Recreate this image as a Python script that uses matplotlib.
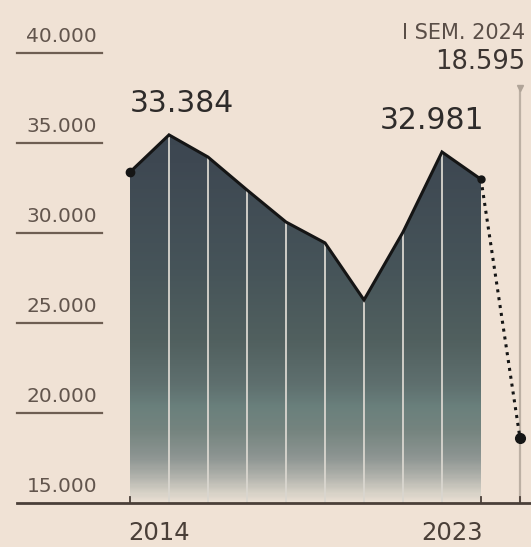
import matplotlib.pyplot as plt
import numpy as np
from matplotlib.colors import LinearSegmentedColormap
from matplotlib.patches import Polygon

years = [2014, 2015, 2016, 2017, 2018, 2019, 2020, 2021, 2022, 2023]
values = [33384, 35450, 34220, 32390, 30610, 29450, 26280, 30050, 34500, 32981]
sem_label = "I SEM. 2024"
sem_value = 18595
yticks = [15000, 20000, 25000, 30000, 35000, 40000]

bg = "#f0e2d5"
px_x = 1 / 39.0
px_y = 1000 / 18.0

fig = plt.figure(figsize=(5.31, 5.47), dpi=100)
fig.patch.set_facecolor(bg)
ax = fig.add_axes([0, 0, 1, 1])
ax.set_facecolor(bg)
ax.set_xlim(-130 * px_x, 401 * px_x)
ax.set_ylim(15000 - 44 * px_y, 15000 + 503 * px_y)
ax.axis("off")

x = np.arange(len(years))

# gradient area under the line
stops = [(15000, "#e8ded2"), (15500, "#d6d1c6"), (16500, "#adafa9"), (17500, "#8d9592"),
         (19000, "#75847f"), (20300, "#6a807c"), (21500, "#5f706f"), (24000, "#51605f"),
         (28000, "#465459"), (34000, "#3e4852"), (36000, "#3c4650")]
lo, hi = stops[0][0], stops[-1][0]
cmap = LinearSegmentedColormap.from_list("g", [((v - lo) / (hi - lo), c) for v, c in stops])
grad = np.linspace(0, 1, 300).reshape(-1, 1)
im = ax.imshow(grad, extent=[x[0], x[-1], lo, hi], origin="lower", aspect="auto",
               cmap=cmap, zorder=1)
verts = [(x[0], 15000)] + list(zip(x, values)) + [(x[-1], 15000)]
poly = Polygon(verts, closed=True, facecolor="none", edgecolor="none")
ax.add_patch(poly)
im.set_clip_path(poly)

# light separators
for i in range(1, len(x) - 1):
    ax.plot([x[i], x[i]], [15000, values[i]], color="#d9d6cf", lw=1.3, zorder=2)

ax.plot(x, values, color="#151515", lw=2.2, zorder=4, solid_joinstyle="miter")
ax.plot([x[-1], x[-1] + 1], [values[-1], sem_value], color="#151515", lw=2.2,
        ls=(0, (1, 1.6)), zorder=4)
ax.plot([x[0]], [values[0]], "o", color="#151515", ms=6, zorder=5)
ax.plot([x[-1]], [values[-1]], "o", color="#151515", ms=5, zorder=5)
ax.plot([x[-1] + 1], [sem_value], "o", color="#151515", ms=7, zorder=5)

# grey marker line for the half year
top = 15000 + 415 * px_y
ax.plot([x[-1] + 1, x[-1] + 1], [15000, top], color="#bcb0a4", lw=1.6, zorder=3)
ax.plot([x[-1] + 1], [top], "v", color="#b0a498", ms=5, zorder=3)

# y scale
for v in yticks:
    if v > 15000:
        ax.plot([-113 * px_x, -28 * px_x], [v, v], color="#6e5e52", lw=1.6)
    ax.text(-33 * px_x, v + 7 * px_y, f"{v // 1000}.000", ha="right", va="bottom",
            fontsize=14.5, color="#62554d")

ax.plot([-113 * px_x, 401 * px_x], [15000, 15000], color="#4a3f38", lw=2, zorder=6)
for xt in [x[0], x[-1], x[-1] + 1]:
    ax.plot([xt, xt], [15000, 15000 + 6 * px_y], color="#4a3f38", lw=1.3, zorder=6)

ax.text(x[0] - 2 * px_x, 15000 - 30 * px_y, str(years[0]), ha="left", va="center",
        fontsize=17.5, color="#4a3f38")
ax.text(x[-1] + 2 * px_x, 15000 - 30 * px_y, str(years[-1]), ha="right", va="center",
        fontsize=17.5, color="#4a3f38")

def fmt(v):
    return f"{v:,}".replace(",", ".")

ax.text(x[0], 15000 + 385 * px_y, fmt(values[0]), ha="left", va="bottom",
        fontsize=21.5, color="#2e2b2a")
ax.text(x[-1] + 3 * px_x, 15000 + 368 * px_y, fmt(values[-1]), ha="right", va="bottom",
        fontsize=21.5, color="#2e2b2a")
ax.text(525 * px_x - 130 * px_x, 15000 + 460 * px_y, sem_label, ha="right", va="bottom",
        fontsize=15, color="#5a4e47")
ax.text(525 * px_x - 130 * px_x, 15000 + 428 * px_y, fmt(sem_value), ha="right", va="bottom",
        fontsize=18.5, color="#3b3431")

fig.savefig("out.png", dpi=100, facecolor=bg)
